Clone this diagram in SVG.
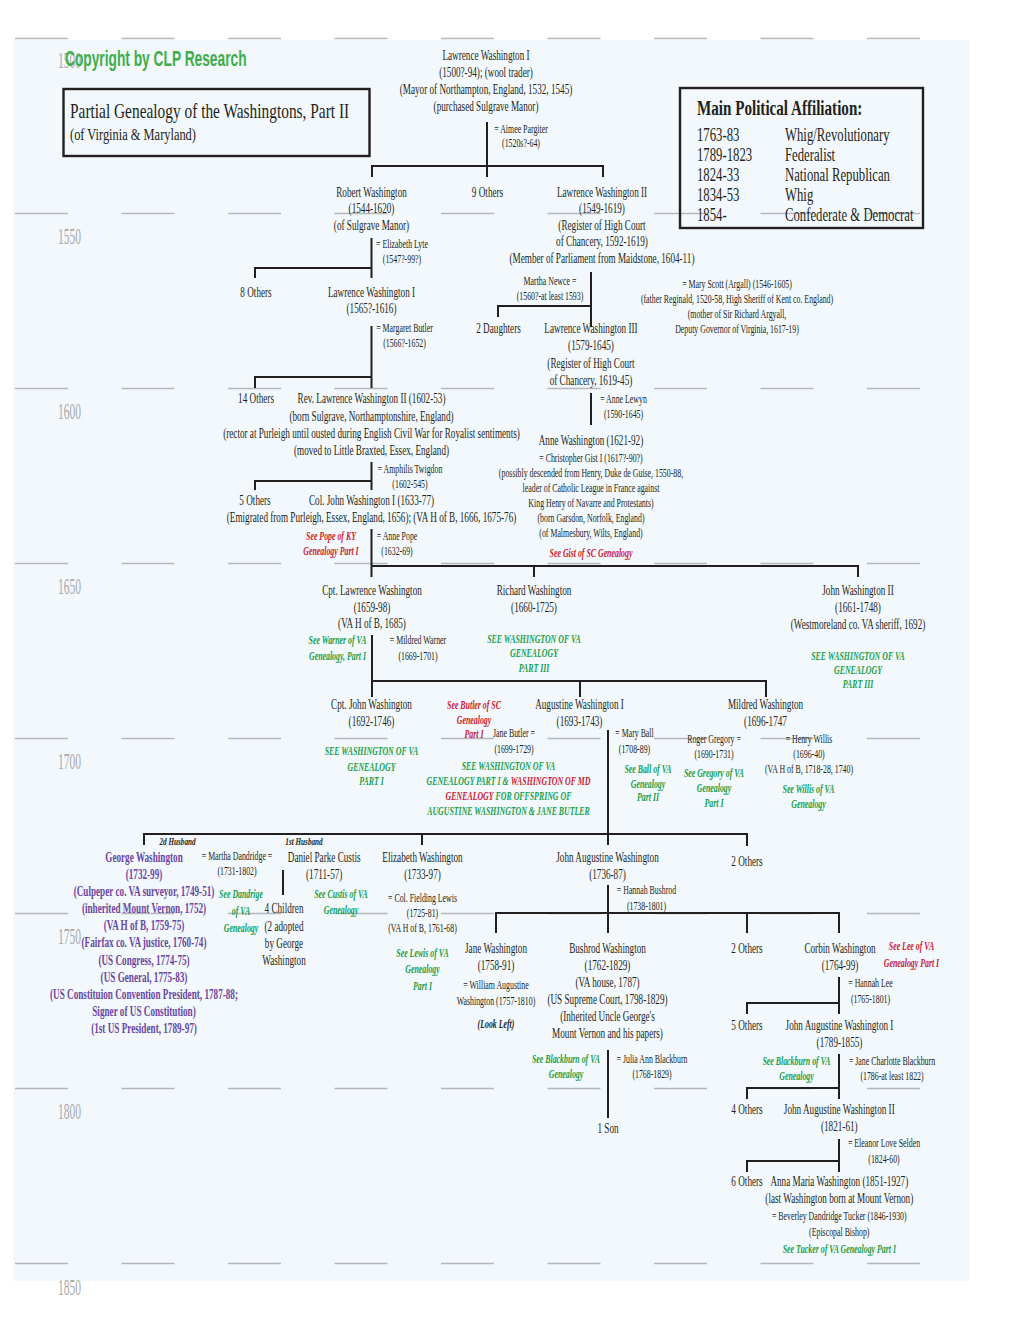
<svg xmlns="http://www.w3.org/2000/svg" width="1020" height="1320" viewBox="0 0 1020 1320">
<style>
text{font-family:"Liberation Serif","Times New Roman",serif;fill:#231f20;text-anchor:middle;transform:scaleX(.655)}
.n{font-size:14px}
.s{font-size:12px}
.g{font-size:12px;font-weight:bold;font-style:italic;fill:#17a04c}
.r{font-size:12px;font-weight:bold;font-style:italic;fill:#cc2131}
.rt{fill:#cc2131}
.gt{fill:#17a04c}
.p{font-size:14px;font-weight:bold;fill:#6a47a3}
.h{font-size:11px;font-weight:bold;font-style:italic}
.li{font-size:12px;font-weight:bold;font-style:italic}
.yr{font-size:24px;fill:#a7a9ac;text-anchor:start;transform:scaleX(.48)}
.ttl{font-size:22px;text-anchor:start;transform:scaleX(.70)}
.sub{font-size:17.5px;text-anchor:start;transform:scaleX(.71)}
.lg{font-size:19px;text-anchor:start;transform:scaleX(.67)}
.lgh{font-size:21px;font-weight:bold;text-anchor:start;transform:scaleX(.72)}
.cp{font-family:"Liberation Sans",Arial,sans-serif;font-weight:bold;font-size:21.5px;fill:#3dae4b;text-anchor:start;transform:scaleX(.64)}
.grid{stroke:#b5b7ba;stroke-width:1.4;fill:none}
.box{fill:none;stroke:#231f20;stroke-width:2.4}
.con{fill:none;stroke:#231f20;stroke-width:2}
</style>
<rect x="13" y="40" width="957" height="1241" fill="#f2f8fc"/>
<g id="grid">
<path class="grid" d="M15,38.5h53m53.5,0h53m53.5,0h53m53.5,0h53m53.5,0h53m53.5,0h53m53.5,0h53m53.5,0h53m53.5,0h53
M15,213.5h53m53.5,0h53m53.5,0h53m53.5,0h53m53.5,0h53m53.5,0h53m53.5,0h53m53.5,0h53m53.5,0h53
M15,388.5h53m53.5,0h53m53.5,0h53m53.5,0h53m53.5,0h53m53.5,0h53m53.5,0h53m53.5,0h53m53.5,0h53
M15,563.5h53m53.5,0h53m53.5,0h53m53.5,0h53m53.5,0h53m53.5,0h53m53.5,0h53m53.5,0h53m53.5,0h53
M15,738.5h53m53.5,0h53m53.5,0h53m53.5,0h53m53.5,0h53m53.5,0h53m53.5,0h53m53.5,0h53m53.5,0h53
M15,913.5h53m53.5,0h53m53.5,0h53m53.5,0h53m53.5,0h53m53.5,0h53m53.5,0h53m53.5,0h53m53.5,0h53
M15,1088.5h53m53.5,0h53m53.5,0h53m53.5,0h53m53.5,0h53m53.5,0h53m53.5,0h53m53.5,0h53m53.5,0h53
M15,1263.5h53m53.5,0h53m53.5,0h53m53.5,0h53m53.5,0h53m53.5,0h53m53.5,0h53m53.5,0h53m53.5,0h53"/>
</g>
<g id="years" transform="translate(58,0)">
<text class="yr" x="0" y="68">1500</text>
<text class="yr" x="0" y="244.5">1550</text>
<text class="yr" x="0" y="419.5">1600</text>
<text class="yr" x="0" y="594.5">1650</text>
<text class="yr" x="0" y="769.5">1700</text>
<text class="yr" x="0" y="944">1750</text>
<text class="yr" x="0" y="1119">1800</text>
<text class="yr" x="0" y="1295">1850</text>
</g>
<g id="copyright" transform="translate(65,0)"><text class="cp" x="0" y="66">Copyright by CLP Research</text></g>
<g id="title">
<rect class="box" x="63.5" y="89" width="306" height="67"/>
<g transform="translate(70,0)"><text class="ttl" x="0" y="118">Partial Genealogy of the Washingtons, Part II</text><text class="sub" x="0" y="140">(of Virginia &amp; Maryland)</text></g>
</g>
<g id="legend">
<rect class="box" x="680" y="88" width="243" height="140"/>
<g transform="translate(697,0)"><text class="lgh" x="0" y="115">Main Political Affiliation:</text>
<text class="lg"><tspan x="0" y="141.5">1763-83</tspan><tspan x="0" y="161.5">1789-1823</tspan><tspan x="0" y="181.3">1824-33</tspan><tspan x="0" y="201">1834-53</tspan><tspan x="0" y="221">1854-</tspan></text></g>
<g transform="translate(785,0)"><text class="lg"><tspan x="0" y="141.5">Whig/Revolutionary</tspan><tspan x="0" y="161.5">Federalist</tspan><tspan x="0" y="181.3">National Republican</tspan><tspan x="0" y="201">Whig</tspan><tspan x="0" y="221">Confederate &amp; Democrat</tspan></text></g>
</g>
<g id="connectors" class="con">
<path class="con" d="M487,122V177 M372,177V166H603V177
M371.5,238V278 M255,278V268H371.5
M591,272V327 M498,317V306H591
M371.5,326V388 M255,388V377H371.5
M591,393V425
M371.5,462V490 M255,490V481H371.5
M371.5,529V577 M371.5,566H858V577 M534,566V577
M372,635V697 M372,681H766V697 M580,681V697
M608,730V845 M144,845V834H747V846 M422,834V845
M283,870V895
M608,885V933 M496,933V913H839V933 M747,913V933
M839,977V1014 M747,1014V1003H839
M839,1054V1099 M747,1099V1088H839
M839,1139V1172 M747,1172V1161H839
M608,1050V1118"/>
</g>
<g id="lawrence-i" transform="translate(486,0)"><text class="n"><tspan x="0" y="60">Lawrence Washington I</tspan><tspan x="0" y="77">(1500?-94); (wool trader)</tspan><tspan x="0" y="93.8">(Mayor of Northampton, England, 1532, 1545)</tspan><tspan x="0" y="110.6">(purchased Sulgrave Manor)</tspan></text></g>
<g id="aimee-pargiter" transform="translate(521,0)"><text class="s"><tspan x="0" y="133">= Aimee Pargiter</tspan><tspan x="0" y="147.5">(1520s?-64)</tspan></text></g>
<g id="robert" transform="translate(371.5,0)"><text class="n"><tspan x="0" y="197">Robert Washington</tspan><tspan x="0" y="213.5">(1544-1620)</tspan><tspan x="0" y="230">(of Sulgrave Manor)</tspan></text></g>
<g id="nine-others" transform="translate(487.5,0)"><text class="n" x="0" y="197">9 Others</text></g>
<g id="lawrence-ii" transform="translate(602,0)"><text class="n"><tspan x="0" y="197">Lawrence Washington II</tspan><tspan x="0" y="213.5">(1549-1619)</tspan><tspan x="0" y="230">(Register of High Court</tspan><tspan x="0" y="246.5">of Chancery, 1592-1619)</tspan><tspan x="0" y="263">(Member of Parliament from Maidstone, 1604-11)</tspan></text></g>
<g id="elizabeth-lyte" transform="translate(402,0)"><text class="s"><tspan x="0" y="248.5">= Elizabeth Lyte</tspan><tspan x="0" y="263.5">(1547?-99?)</tspan></text></g>
<g id="eight-others" transform="translate(256,0)"><text class="n" x="0" y="297">8 Others</text></g>
<g id="lawrence-i-b" transform="translate(371.5,0)"><text class="n"><tspan x="0" y="297">Lawrence Washington I</tspan><tspan x="0" y="313.5">(1565?-1616)</tspan></text></g>
<g id="margaret-butler" transform="translate(404.5,0)"><text class="s"><tspan x="0" y="332">= Margaret Butler</tspan><tspan x="0" y="347">(1566?-1652)</tspan></text></g>
<g id="martha-newce" transform="translate(550,0)"><text class="s"><tspan x="0" y="285.5">Martha Newce =</tspan><tspan x="0" y="300.5">(1560?-at least 1593)</tspan></text></g>
<g id="mary-scott" transform="translate(737,0)"><text class="s"><tspan x="0" y="288">= Mary Scott (Argall) (1546-1605)</tspan><tspan x="0" y="303">(father Reginald, 1520-58, High Sheriff of Kent co. England)</tspan><tspan x="0" y="318">(mother of Sir Richard Argyall,</tspan><tspan x="0" y="333">Deputy Governor of Virginia, 1617-19)</tspan></text></g>
<g id="two-daughters" transform="translate(498.5,0)"><text class="n" x="0" y="333">2 Daughters</text></g>
<g id="lawrence-iii" transform="translate(591,0)"><text class="n"><tspan x="0" y="333">Lawrence Washington III</tspan><tspan x="0" y="350.5">(1579-1645)</tspan><tspan x="0" y="368">(Register of High Court</tspan><tspan x="0" y="385">of Chancery, 1619-45)</tspan></text></g>
<g id="anne-lewyn" transform="translate(623.5,0)"><text class="s"><tspan x="0" y="403.5">= Anne Lewyn</tspan><tspan x="0" y="418.5">(1590-1645)</tspan></text></g>
<g id="fourteen-others" transform="translate(256,0)"><text class="n" x="0" y="403.5">14 Others</text></g>
<g id="rev-lawrence" transform="translate(371.5,0)"><text class="n"><tspan x="0" y="403.5">Rev. Lawrence Washington II (1602-53)</tspan><tspan x="0" y="420.7">(born Sulgrave, Northamptonshire, England)</tspan><tspan x="0" y="437.9">(rector at Purleigh until ousted during English Civil War for Royalist sentiments)</tspan><tspan x="0" y="455">(moved to Little Braxted, Essex, England)</tspan></text></g>
<g id="amphilis-twigdon" transform="translate(410,0)"><text class="s"><tspan x="0" y="473.3">= Amphilis Twigdon</tspan><tspan x="0" y="488">(1602-545)</tspan></text></g>
<g id="anne-washington" transform="translate(591,0)"><text class="n" x="0" y="445">Anne Washington (1621-92)</text><text class="s"><tspan x="0" y="461.7">= Christopher Gist I (1617?-90?)</tspan><tspan x="0" y="476.7">(possibly descended from Henry, Duke de Guise, 1550-88,</tspan><tspan x="0" y="491.7">leader of Catholic League in France against</tspan><tspan x="0" y="506.7">King Henry of Navarre and Protestants)</tspan><tspan x="0" y="521.7">(born Garsdon, Norfolk, England)</tspan><tspan x="0" y="536.7">(of Malmesbury, Wilts, England)</tspan></text><text class="r" x="0" y="557.5">See Gist of SC Genealogy</text></g>
<g id="five-others" transform="translate(255,0)"><text class="n" x="0" y="505">5 Others</text></g>
<g id="col-john" transform="translate(371.5,0)"><text class="n"><tspan x="0" y="505">Col. John Washington I (1633-77)</tspan><tspan x="0" y="522.5">(Emigrated from Purleigh, Essex, England, 1656); (VA H of B, 1666, 1675-76)</tspan></text></g>
<g id="pope-link" transform="translate(331,0)"><text class="r"><tspan x="0" y="540">See Pope of KY</tspan><tspan x="0" y="555">Genealogy Part I</tspan></text></g>
<g id="anne-pope" transform="translate(397,0)"><text class="s"><tspan x="0" y="540">= Anne Pope</tspan><tspan x="0" y="555">(1632-69)</tspan></text></g>
<g id="cpt-lawrence" transform="translate(372,0)"><text class="n"><tspan x="0" y="595">Cpt. Lawrence Washington</tspan><tspan x="0" y="611.7">(1659-98)</tspan><tspan x="0" y="628.3">(VA H of B, 1685)</tspan></text></g>
<g id="warner-link" transform="translate(337.5,0)"><text class="g"><tspan x="0" y="644">See Warner of VA</tspan><tspan x="0" y="660.5">Genealogy, Part I</tspan></text></g>
<g id="mildred-warner" transform="translate(418,0)"><text class="s"><tspan x="0" y="644">= Mildred Warner</tspan><tspan x="0" y="660">(1669-1701)</tspan></text></g>
<g id="richard" transform="translate(534,0)"><text class="n"><tspan x="0" y="595">Richard Washington</tspan><tspan x="0" y="611.7">(1660-1725)</tspan></text><text class="g"><tspan x="0" y="643.3">SEE WASHINGTON OF VA</tspan><tspan x="0" y="657.5">GENEALOGY</tspan><tspan x="0" y="671.7">PART III</tspan></text></g>
<g id="john-ii" transform="translate(858,0)"><text class="n"><tspan x="0" y="595">John Washington II</tspan><tspan x="0" y="611.7">(1661-1748)</tspan><tspan x="0" y="629">(Westmoreland co. VA sheriff, 1692)</tspan></text><text class="g"><tspan x="0" y="660">SEE WASHINGTON OF VA</tspan><tspan x="0" y="674.3">GENEALOGY</tspan><tspan x="0" y="688.5">PART III</tspan></text></g>
<g id="cpt-john" transform="translate(371.5,0)"><text class="n"><tspan x="0" y="709.3">Cpt. John Washington</tspan><tspan x="0" y="726">(1692-1746)</tspan></text><text class="g"><tspan x="0" y="755.5">SEE WASHINGTON OF VA</tspan><tspan x="0" y="771">GENEALOGY</tspan><tspan x="0" y="785.5">PART I</tspan></text></g>
<g id="butler-link" transform="translate(474,0)"><text class="r"><tspan x="0" y="709.3">See Butler of SC</tspan><tspan x="0" y="724.3">Genealogy</tspan><tspan x="0" y="738.3">Part I</tspan></text></g>
<g id="augustine" transform="translate(579.5,0)"><text class="n"><tspan x="0" y="709.3">Augustine Washington I</tspan><tspan x="0" y="726">(1693-1743)</tspan></text></g>
<g id="jane-butler" transform="translate(514,0)"><text class="s"><tspan x="0" y="736.7">Jane Butler =</tspan><tspan x="0" y="753.3">(1699-1729)</tspan></text></g>
<g id="offspring-link" transform="translate(508.5,0)"><text class="g"><tspan x="0" y="770">SEE WASHINGTON OF VA</tspan><tspan x="0" y="784.8">GENEALOGY PART I &amp; <tspan class="rt">WASHINGTON OF MD</tspan></tspan><tspan x="0" y="800"><tspan class="rt">GENEALOGY</tspan> FOR OFFSPRING OF</tspan><tspan x="0" y="815">AUGUSTINE WASHINGTON &amp; JANE BUTLER</tspan></text></g>
<g id="mary-ball" transform="translate(634.5,0)"><text class="s"><tspan x="0" y="736.7">= Mary Ball</tspan><tspan x="0" y="753.3">(1708-89)</tspan></text></g>
<g id="ball-link" transform="translate(648,0)"><text class="g"><tspan x="0" y="772.7">See Ball of VA</tspan><tspan x="0" y="787.7">Genealogy</tspan><tspan x="0" y="801.5">Part II</tspan></text></g>
<g id="mildred" transform="translate(765.5,0)"><text class="n"><tspan x="0" y="709.3">Mildred Washington</tspan><tspan x="0" y="726">(1696-1747</tspan></text></g>
<g id="roger-gregory" transform="translate(714,0)"><text class="s"><tspan x="0" y="743.3">Roger Gregory =</tspan><tspan x="0" y="758.3">(1690-1731)</tspan></text></g>
<g id="gregory-link" transform="translate(714,0)"><text class="g"><tspan x="0" y="777.3">See Gregory of VA</tspan><tspan x="0" y="791.7">Genealogy</tspan><tspan x="0" y="806.7">Part I</tspan></text></g>
<g id="henry-willis" transform="translate(809,0)"><text class="s"><tspan x="0" y="743.3">= Henry Willis</tspan><tspan x="0" y="758.3">(1696-40)</tspan><tspan x="0" y="773.3">(VA H of B, 1718-28, 1740)</tspan></text></g>
<g id="willis-link" transform="translate(808.5,0)"><text class="g"><tspan x="0" y="793.3">See Willis of VA</tspan><tspan x="0" y="808.3">Genealogy</tspan></text></g>
<g id="husband-2d" transform="translate(177.5,0)"><text class="h" x="0" y="845.5">2d Husband</text></g>
<g id="husband-1st" transform="translate(304,0)"><text class="h" x="0" y="845.5">1st Husband</text></g>
<g id="george" transform="translate(144,0)"><text class="p"><tspan x="0" y="861.7">George Washington</tspan><tspan x="0" y="878.9">(1732-99)</tspan><tspan x="0" y="896">(Culpeper co. VA surveyor, 1749-51)</tspan><tspan x="0" y="913.2">(inherited Mount Vernon, 1752)</tspan><tspan x="0" y="930.3">(VA H of B, 1759-75)</tspan><tspan x="0" y="947.5">(Fairfax co. VA justice, 1760-74)</tspan><tspan x="0" y="964.6">(US Congress, 1774-75)</tspan><tspan x="0" y="981.8">(US General, 1775-83)</tspan><tspan x="0" y="998.9">(US Constituion Convention President, 1787-88;</tspan><tspan x="0" y="1016">Signer of US Constitution)</tspan><tspan x="0" y="1033.2">(1st US President, 1789-97)</tspan></text></g>
<g id="martha-dandridge" transform="translate(237,0)"><text class="s"><tspan x="0" y="860">= Martha Dandridge =</tspan><tspan x="0" y="875">(1731-1802)</tspan></text></g>
<g id="dandridge-link" transform="translate(241,0)"><text class="g"><tspan x="0" y="897.7">See Dandrige</tspan><tspan x="0" y="915">of VA</tspan><tspan x="0" y="931.7">Genealogy</tspan></text></g>
<g id="daniel-custis" transform="translate(324.2,0)"><text class="n"><tspan x="0" y="861.7">Daniel Parke Custis</tspan><tspan x="0" y="879">(1711-57)</tspan></text></g>
<g id="four-children" transform="translate(284,0)"><text class="n"><tspan x="0" y="913.3">4 Children</tspan><tspan x="0" y="931">(2 adopted</tspan><tspan x="0" y="948.3">by George</tspan><tspan x="0" y="965">Washington</tspan></text></g>
<g id="custis-link" transform="translate(341,0)"><text class="g"><tspan x="0" y="897.7">See Custis of VA</tspan><tspan x="0" y="914.3">Genealogy</tspan></text></g>
<g id="elizabeth" transform="translate(422.5,0)"><text class="n"><tspan x="0" y="861.7">Elizabeth Washington</tspan><tspan x="0" y="879">(1733-97)</tspan></text></g>
<g id="fielding-lewis" transform="translate(422.5,0)"><text class="s"><tspan x="0" y="902">= Col. Fielding Lewis</tspan><tspan x="0" y="917">(1725-81)</tspan><tspan x="0" y="932">(VA H of B, 1761-68)</tspan></text></g>
<g id="lewis-link" transform="translate(422.5,0)"><text class="g"><tspan x="0" y="957">See Lewis of VA</tspan><tspan x="0" y="973.3">Genealogy</tspan><tspan x="0" y="990">Part I</tspan></text></g>
<g id="john-augustine" transform="translate(607.5,0)"><text class="n"><tspan x="0" y="861.7">John Augustine Washington</tspan><tspan x="0" y="879">(1736-87)</tspan></text></g>
<g id="two-others-a" transform="translate(747,0)"><text class="n" x="0" y="866">2 Others</text></g>
<g id="hannah-bushrod" transform="translate(646.5,0)"><text class="s"><tspan x="0" y="894.3">= Hannah Bushrod</tspan><tspan x="0" y="910">(1738-1801)</tspan></text></g>
<g id="jane-washington" transform="translate(496,0)"><text class="n"><tspan x="0" y="952.7">Jane Washington</tspan><tspan x="0" y="970">(1758-91)</tspan></text><text class="s"><tspan x="0" y="989.3">= William Augustine</tspan><tspan x="0" y="1005">Washington (1757-1810)</tspan></text><text class="li" x="0" y="1028.3">(Look Left)</text></g>
<g id="bushrod" transform="translate(607.5,0)"><text class="n"><tspan x="0" y="952.7">Bushrod Washington</tspan><tspan x="0" y="970">(1762-1829)</tspan><tspan x="0" y="986.7">(VA house, 1787)</tspan><tspan x="0" y="1004">(US Supreme Court, 1798-1829)</tspan><tspan x="0" y="1021.5">(Inherited Uncle George's</tspan><tspan x="0" y="1038.3">Mount Vernon and his papers)</tspan></text></g>
<g id="blackburn-link-a" transform="translate(566,0)"><text class="g"><tspan x="0" y="1063">See Blackburn of VA</tspan><tspan x="0" y="1078">Genealogy</tspan></text></g>
<g id="julia-blackburn" transform="translate(652,0)"><text class="s"><tspan x="0" y="1063">= Julia Ann Blackburn</tspan><tspan x="0" y="1078">(1768-1829)</tspan></text></g>
<g id="one-son" transform="translate(608,0)"><text class="n" x="0" y="1133">1 Son</text></g>
<g id="two-others-b" transform="translate(747,0)"><text class="n" x="0" y="953.3">2 Others</text></g>
<g id="corbin" transform="translate(840,0)"><text class="n"><tspan x="0" y="952.7">Corbin Washington</tspan><tspan x="0" y="970">(1764-99)</tspan></text></g>
<g id="lee-link" transform="translate(911.5,0)"><text class="r"><tspan x="0" y="950">See Lee of VA</tspan><tspan x="0" y="966.7">Genealogy Part I</tspan></text></g>
<g id="hannah-lee" transform="translate(870.5,0)"><text class="s"><tspan x="0" y="986.7">= Hannah Lee</tspan><tspan x="0" y="1002.7">(1765-1801)</tspan></text></g>
<g id="five-others-b" transform="translate(747,0)"><text class="n" x="0" y="1030">5 Others</text></g>
<g id="jaw-i" transform="translate(839.5,0)"><text class="n"><tspan x="0" y="1030">John Augustine Washington I</tspan><tspan x="0" y="1046.7">(1789-1855)</tspan></text></g>
<g id="blackburn-link-b" transform="translate(796.5,0)"><text class="g"><tspan x="0" y="1065">See Blackburn of VA</tspan><tspan x="0" y="1080">Genealogy</tspan></text></g>
<g id="jane-charlotte" transform="translate(892,0)"><text class="s"><tspan x="0" y="1065">= Jane Charlotte Blackburn</tspan><tspan x="0" y="1080">(1786-at least 1822)</tspan></text></g>
<g id="four-others" transform="translate(747,0)"><text class="n" x="0" y="1114">4 Others</text></g>
<g id="jaw-ii" transform="translate(839.3,0)"><text class="n"><tspan x="0" y="1114">John Augustine Washington II</tspan><tspan x="0" y="1130.7">(1821-61)</tspan></text></g>
<g id="eleanor-selden" transform="translate(884,0)"><text class="s"><tspan x="0" y="1147">= Eleanor Love Selden</tspan><tspan x="0" y="1162.7">(1824-60)</tspan></text></g>
<g id="six-others" transform="translate(747,0)"><text class="n" x="0" y="1186">6 Others</text></g>
<g id="anna-maria" transform="translate(839.3,0)"><text class="n"><tspan x="0" y="1186">Anna Maria Washington (1851-1927)</tspan><tspan x="0" y="1203">(last Washington born at Mount Vernon)</tspan></text><text class="s"><tspan x="0" y="1220">= Beverley Dandridge Tucker (1846-1930)</tspan><tspan x="0" y="1236">(Episcopal Bishop)</tspan></text><text class="g" x="0" y="1252.7">See Tucker of VA Genealogy Part I</text></g>
</svg>
